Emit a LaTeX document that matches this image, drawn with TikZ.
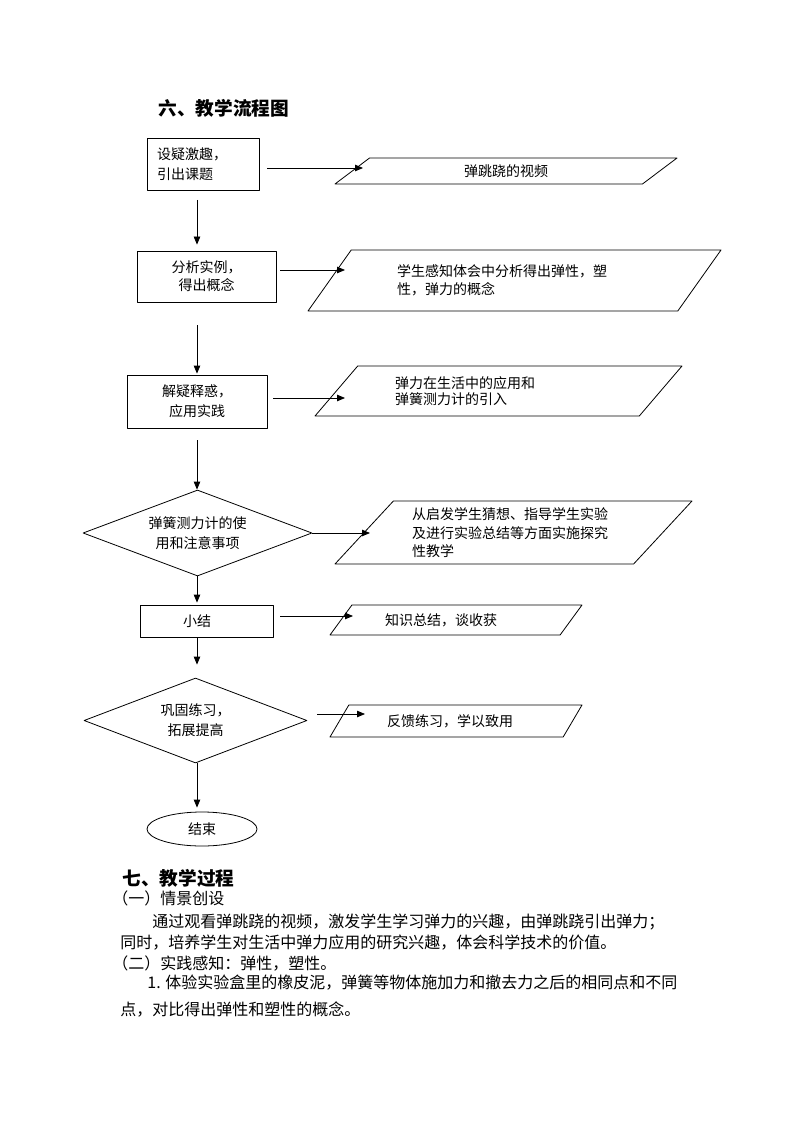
\documentclass[tikz,border=0pt]{standalone}
\usepackage{fontspec}
\setmainfont{Noto Sans CJK SC}
\usetikzlibrary{shapes.geometric,arrows.meta}
\begin{document}
\begin{tikzpicture}[line join=round, line cap=round, >={Triangle[length=8pt,width=6.5pt]}, line width=0.8pt, x=1pt, y=-1pt]
    \tikzset{flow/.style={font=\fontsize{14}{18}\selectfont, inner sep=0pt},
        box/.style={flow, draw, rectangle, align=center},
        choice/.style={flow, draw, diamond, align=center},
        para/.style={flow, draw, trapezium, trapezium stretches body, align=left},
        endbox/.style={flow, draw, ellipse},
        heading/.style={anchor=west, inner sep=0pt, font=\fontsize{18.67}{20}\selectfont\bfseries},
        body/.style={anchor=west, inner sep=0pt, font=\fontsize{16}{20}\selectfont}}
    \useasboundingbox[fill=white] (0,0) rectangle (794,1123);
    \node[heading] (title1) at (158,108) {六、教学流程图};
    % left column
    \node[box, align=left, text width=92pt, inner xsep=10pt, minimum height=52pt] (b1) at (203,164) {设疑激趣，\\[2pt]引出课题};
    \node[box, minimum width=139pt, minimum height=51pt] (b2) at (206.5,276.5) {分析实例，\\得出概念};
    \node[box, minimum width=140pt, minimum height=53pt] (b3) at (197,401.5) {解疑释惑，\\[2pt]应用实践};
    \node[choice, aspect=2.66, minimum width=229pt, minimum height=86pt] (d1) at (197.5,533) {弹簧测力计的使\\[2pt]用和注意事项};
    \node[box, align=left, text width=47pt, inner xsep=43pt, minimum height=32pt] (b5) at (206.5,621) {小结};
    \node[choice, aspect=2.62, minimum width=223pt, minimum height=85pt] (d2) at (195.5,720.5) {巩固练习，\\[2pt]拓展提高};
    \node[endbox, minimum width=110pt, minimum height=34pt] (e) at (202,829) {结束};
    % right column
    \node[para, align=center, trapezium left angle=20.65, trapezium right angle=159.35, minimum width=342pt, minimum height=26pt] (p1) at (506,171) {弹跳跷的视频};
    \node[para, text width=235pt, trapezium left angle=35.99, trapezium right angle=144.01, minimum width=413pt, minimum height=61pt] (p2) at (514.5,280.5) {学生感知体会中分析得出弹性，塑\\性，弹力的概念};
    \node[para, text width=207pt, trapezium left angle=34.22, trapezium right angle=145.78, minimum width=367pt, minimum height=50pt] (p3) at (498.5,391) {弹力在生活中的应用和\\[-2pt]弹簧测力计的引入};
    \node[para, text width=203pt, trapezium left angle=40.6, trapezium right angle=139.4, minimum width=357pt, minimum height=63pt] (p4) at (513.5,532.5) {从启发学生猜想、指导学生实验\\[1pt]及进行实验总结等方面实施探究\\性教学};
    \node[para, text width=142pt, trapezium left angle=31.2, trapezium right angle=148.8, minimum width=252pt, minimum height=30pt] (p5) at (456,620) {知识总结，谈收获};
    \node[para, text width=138pt, trapezium left angle=35.4, trapezium right angle=144.6, minimum width=252pt, minimum height=32pt] (p6) at (456,721) {反馈练习，学以致用};
    % down the left column
    \coordinate (axis) at (197,0);
    \draw[->, shorten <=10pt, shorten >=6pt] (b1.south -| axis) -- (b2.north -| axis);
    \draw[->, shorten <=23pt, shorten >=1pt] (b2.south -| axis) -- (b3.north -| axis);
    \draw[->, shorten <=12pt] (b3.south -| axis) -- (d1.north -| axis);
    \draw[->, shorten >=2pt] (d1.south -| axis) -- (b5.north -| axis);
    \draw[->, shorten >=13pt] (b5.south -| axis) -- (d2.north -| axis);
    \draw[->, shorten >=4pt] (d2.south -| axis) -- (e.north -| axis);
    % across to the right
    \coordinate (h1) at (363,168);
    \coordinate (h2) at (345,270);
    \coordinate (h3) at (345,398);
    \coordinate (h4) at (370,533);
    \coordinate (h5) at (353,616);
    \coordinate (h6) at (365,714);
    \draw[->, shorten <=8pt] (b1.east |- h1) -- (h1);
    \draw[->, shorten <=4pt] (b2.east |- h2) -- (h2);
    \draw[->, shorten <=6pt] (b3.east |- h3) -- (h3);
    \draw[->] (d1.east) -- (h4);
    \draw[->, shorten <=7pt] (b5.east |- h5) -- (h5);
    \draw[->, shorten <=10pt] (d2.east |- h6) -- (h6);
    % text below
    \node[heading] (title2) at (122,878) {七、教学过程};
    \node[body] (s1) at (112,898) {（一）情景创设};
    \node[body] (l1) at (152,922) {通过观看弹跳跷的视频，激发学生学习弹力的兴趣，由弹跳跷引出弹力；};
    \node[body] (l2) at (120,943) {同时，培养学生对生活中弹力应用的研究兴趣，体会科学技术的价值。};
    \node[body] (s2) at (112,963) {（二）实践感知：弹性，塑性。};
    \node[body] (l3) at (147,983) {1. 体验实验盒里的橡皮泥，弹簧等物体施加力和撤去力之后的相同点和不同};
    \node[body] (l4) at (120,1009) {点，对比得出弹性和塑性的概念。};
\end{tikzpicture}
\end{document}
